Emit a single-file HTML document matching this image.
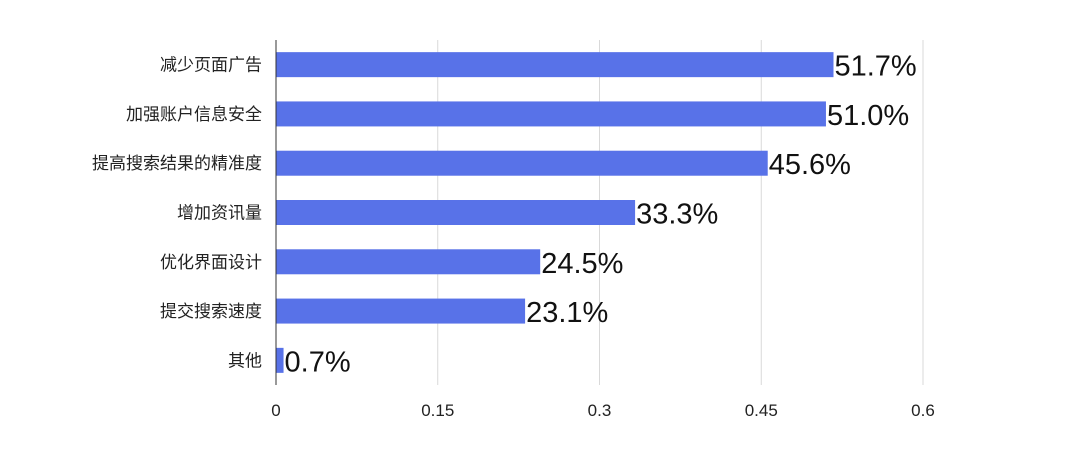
<!DOCTYPE html>
<html><head><meta charset="utf-8"><style>
body{margin:0;background:#fff;}
svg text{font-family:"Liberation Sans","Noto Sans CJK SC",sans-serif;}
</style></head><body>
<svg id="chart" width="1080" height="468" xmlns="http://www.w3.org/2000/svg"></svg>
<script>
const categories=["减少页面广告","加强账户信息安全","提高搜索结果的精准度","增加资讯量","优化界面设计","提交搜索速度","其他"];
const values=[0.517,0.510,0.456,0.333,0.245,0.231,0.007];
const valueLabels=["51.7%","51.0%","45.6%","33.3%","24.5%","23.1%","0.7%"];
const ticks=[0,0.15,0.3,0.45,0.6];
const tickLabels=["0","0.15","0.3","0.45","0.6"];
const svgEl=document.getElementById('chart');
const NS="http://www.w3.org/2000/svg";
const xLeft=276,xRight=923,yTop=40,yBottom=385;
const xs=v=>xLeft+(v/0.6)*(xRight-xLeft);
const step=(yBottom-yTop)/categories.length;
const yc=i=>yTop+step*(i+0.5);
function mk(t,a){const e=document.createElementNS(NS,t);for(const k in a)e.setAttribute(k,a[k]);svgEl.appendChild(e);return e;}
ticks.forEach((t,i)=>{
  if(i>0){const g=mk('line',{x1:xs(t),x2:xs(t),y1:yTop,y2:yBottom,stroke:'#d9d9d9','stroke-width':1});
  
  }
  const tl=mk('text',{x:xs(t),y:416,'text-anchor':'middle','font-size':17,fill:'#222'});tl.textContent=tickLabels[i];
  
  
});
categories.forEach((c,i)=>{
  const b=mk('rect',{x:xLeft,y:yc(i)-12.5,width:xs(values[i])-xLeft,height:25,fill:'#5872e8'});
  
  
  const l=mk('text',{x:262,y:yc(i)+6,'text-anchor':'end','font-size':17,fill:'#222'});l.textContent=c;
  
  
  const v=mk('text',{x:xs(values[i])+1,y:yc(i)+11,'font-size':29,fill:'#111'});v.textContent=valueLabels[i];
  
  
});
const ax=mk('line',{x1:xLeft,x2:xLeft,y1:yTop,y2:yBottom,stroke:'#333','stroke-width':1});


</script>
</body></html>
